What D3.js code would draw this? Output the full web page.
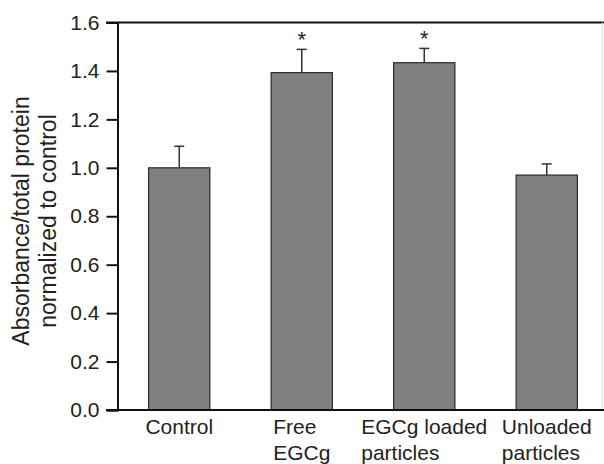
<!DOCTYPE html>
<html><head><meta charset="utf-8">
<script src="https://cdn.jsdelivr.net/npm/d3@7"></script>
<style>
html,body{margin:0;padding:0;background:#fff;}
text{font-family:"Liberation Sans",Arial,sans-serif;fill:#222;}
</style></head>
<body>
<svg id="chart" width="604" height="464"></svg>
<script>
const categories = [["Control"], ["Free", "EGCg"], ["EGCg loaded", "particles"], ["Unloaded", "particles"]];
const means = [1.00, 1.393, 1.434, 0.970];
const errors = [0.089, 0.096, 0.059, 0.046];
const significant = [false, true, true, false];
const yTicks = [0, 0.2, 0.4, 0.6, 0.8, 1.0, 1.2, 1.4, 1.6];
const yTitle = ["Absorbance/total protein", "normalized to control"];

(function () {
const svg = d3.select("#chart");
const mLeft = 118, mRight = 608, mTop = 22.5, mBottom = 410;
const keys = categories.map((c, i) => i);
const x = d3.scaleBand().domain(keys).range([mLeft, mRight]).paddingInner(0.5).paddingOuter(0.25);
const y = d3.scaleLinear().domain([0, 1.6]).range([mBottom, mTop]);

// frame (top + faint right)
svg.append("line").attr("x1", 106).attr("x2", 604).attr("y1", y(1.6)).attr("y2", y(1.6))
  .attr("stroke", "#111").attr("stroke-width", 2);
svg.append("line").attr("x1", 602.5).attr("x2", 602.5).attr("y1", y(1.6)).attr("y2", y(0))
  .attr("stroke", "#e4e4e4").attr("stroke-width", 1);

// bars
svg.selectAll("rect.bar").data(means).join("rect").attr("class", "bar")
  .attr("x", (d, i) => x(i)).attr("width", x.bandwidth())
  .attr("y", d => y(d)).attr("height", d => y(0) - y(d))
  .attr("fill", "#808080").attr("stroke", "#2a2a2a").attr("stroke-width", 1.2);

// error bars
const eg = svg.append("g");
means.forEach((m, i) => {
  const cx = x(i) + x.bandwidth() / 2;
  eg.append("line").attr("x1", cx).attr("x2", cx).attr("y1", y(m)).attr("y2", y(m + errors[i]))
    .attr("stroke", "#333").attr("stroke-width", 1.5);
  eg.append("line").attr("x1", cx - 5).attr("x2", cx + 5).attr("y1", y(m + errors[i])).attr("y2", y(m + errors[i]))
    .attr("stroke", "#333").attr("stroke-width", 1.5);
  if (significant[i]) {
    eg.append("text").attr("x", cx).attr("y", y(m + errors[i]) - 2)
      .attr("text-anchor", "middle").attr("font-size", 22).text("*");
  }
});

// y axis
const yAxis = d3.axisLeft(y).tickValues(yTicks).tickFormat(d3.format(".1f")).tickSizeOuter(0).tickSize(11).tickPadding(7);
const ga = svg.append("g").attr("transform", `translate(${mLeft - 0.5},0)`).call(yAxis);
ga.select(".domain").attr("stroke", "#111").attr("stroke-width", 2);
ga.selectAll(".tick line").attr("stroke", "#111").attr("stroke-width", 2);
ga.selectAll(".tick text").attr("font-size", 21).attr("font-family", "Liberation Sans, Arial, sans-serif").attr("fill", "#222");

// x axis line
svg.append("line").attr("x1", 106).attr("x2", 604).attr("y1", y(0)).attr("y2", y(0))
  .attr("stroke", "#111").attr("stroke-width", 2);

// x labels: left-aligned block centred on band
categories.forEach((lines, i) => {
  const cx = x(i) + x.bandwidth() / 2;
  const g = svg.append("g");
  const texts = lines.map((s, j) => g.append("text").attr("y", 434 + j * 25.5).attr("font-size", 21).text(s));
  const w = d3.max(texts, t => t.node().getComputedTextLength());
  texts.forEach(t => t.attr("x", cx - w / 2));
});

// y title
const tg = svg.append("g").attr("transform", "translate(0,221) rotate(-90)");
const tBase = [29, 56];
yTitle.forEach((s, j) => {
  tg.append("text").attr("x", 0).attr("y", tBase[j]).attr("text-anchor", "middle").attr("font-size", 23).text(s);
});
})();
</script>
</body></html>
